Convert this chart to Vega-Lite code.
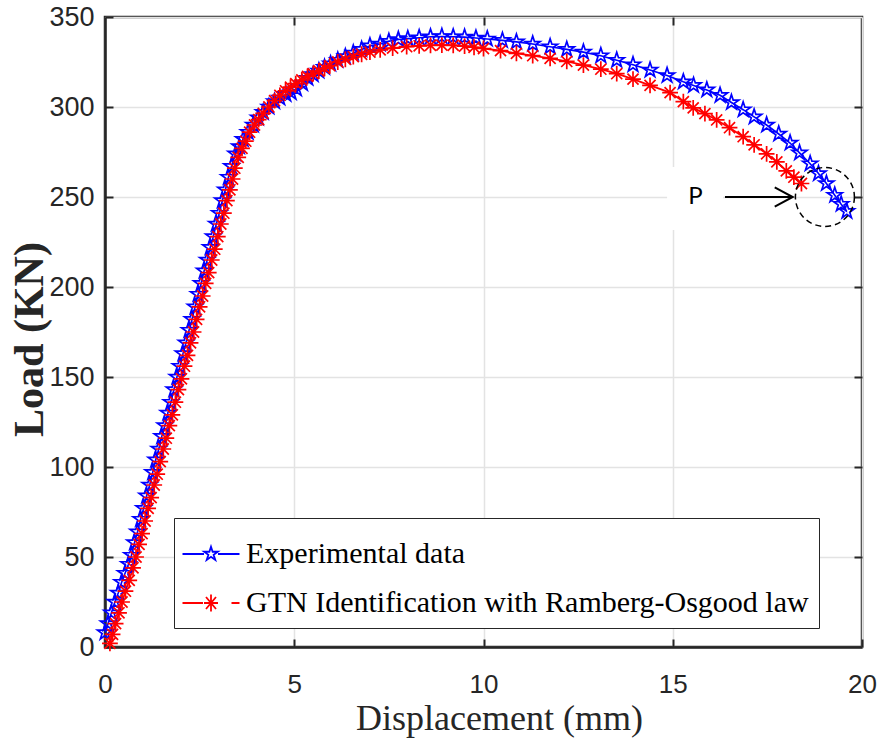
{
  "$schema": "https://vega.github.io/schema/vega-lite/v6.json",
  "width": 757,
  "height": 630,
  "autosize": {"type": "none"},
  "padding": {"left": 105, "top": 17, "right": 17, "bottom": 93},
  "background": "white",
  "config": {
    "view": {"stroke": "#262626", "strokeWidth": 2.5}
  },
  "datasets": {
    "curves": [
      {"s":"E","x":0.00,"y":8},{"s":"E","x":0.08,"y":13},{"s":"E","x":0.17,"y":19},{"s":"E","x":0.26,"y":25},{"s":"E","x":0.35,"y":30},
      {"s":"E","x":0.44,"y":36},{"s":"E","x":0.53,"y":41},{"s":"E","x":0.62,"y":46},{"s":"E","x":0.70,"y":51},{"s":"E","x":0.78,"y":58},
      {"s":"E","x":0.86,"y":64},{"s":"E","x":0.94,"y":71},{"s":"E","x":1.02,"y":77},{"s":"E","x":1.10,"y":84},{"s":"E","x":1.18,"y":90},
      {"s":"E","x":1.26,"y":97},{"s":"E","x":1.34,"y":104},{"s":"E","x":1.42,"y":110},{"s":"E","x":1.50,"y":117},{"s":"E","x":1.58,"y":123},
      {"s":"E","x":1.66,"y":130},{"s":"E","x":1.74,"y":136},{"s":"E","x":1.82,"y":143},{"s":"E","x":1.90,"y":150},{"s":"E","x":1.98,"y":156},
      {"s":"E","x":2.06,"y":163},{"s":"E","x":2.14,"y":169},{"s":"E","x":2.22,"y":176},{"s":"E","x":2.30,"y":182},{"s":"E","x":2.38,"y":189},
      {"s":"E","x":2.46,"y":196},{"s":"E","x":2.54,"y":202},{"s":"E","x":2.62,"y":209},{"s":"E","x":2.70,"y":215},{"s":"E","x":2.78,"y":222},
      {"s":"E","x":2.86,"y":228},{"s":"E","x":2.94,"y":235},{"s":"E","x":3.02,"y":241},{"s":"E","x":3.10,"y":248},{"s":"E","x":3.18,"y":254},
      {"s":"E","x":3.26,"y":261},{"s":"E","x":3.34,"y":267},{"s":"E","x":3.45,"y":274},{"s":"E","x":3.55,"y":278},{"s":"E","x":3.65,"y":282},
      {"s":"E","x":3.78,"y":286},{"s":"E","x":3.92,"y":290},{"s":"E","x":4.05,"y":294},{"s":"E","x":4.18,"y":297},{"s":"E","x":4.33,"y":300},
      {"s":"E","x":4.48,"y":303},{"s":"E","x":4.62,"y":305},{"s":"E","x":4.78,"y":307},{"s":"E","x":4.92,"y":308},{"s":"E","x":5.06,"y":310},
      {"s":"E","x":5.22,"y":313},{"s":"E","x":5.36,"y":316},{"s":"E","x":5.50,"y":318},{"s":"E","x":5.65,"y":320},{"s":"E","x":5.80,"y":322},
      {"s":"E","x":5.96,"y":324},{"s":"E","x":6.15,"y":326},{"s":"E","x":6.35,"y":328},{"s":"E","x":6.56,"y":330},{"s":"E","x":6.78,"y":332},
      {"s":"E","x":7.00,"y":334},{"s":"E","x":7.27,"y":335},{"s":"E","x":7.50,"y":336.5},{"s":"E","x":7.75,"y":337.5},{"s":"E","x":8.00,"y":338},
      {"s":"E","x":8.30,"y":338.5},{"s":"E","x":8.60,"y":339},{"s":"E","x":8.90,"y":339.2},{"s":"E","x":9.20,"y":339},{"s":"E","x":9.50,"y":338.8},
      {"s":"E","x":9.80,"y":338.3},{"s":"E","x":10.10,"y":337.8},{"s":"E","x":10.50,"y":337},{"s":"E","x":10.87,"y":336.2},{"s":"E","x":11.30,"y":335},
      {"s":"E","x":11.76,"y":333.5},{"s":"E","x":12.20,"y":332},{"s":"E","x":12.64,"y":330.5},{"s":"E","x":13.10,"y":328.5},{"s":"E","x":13.52,"y":326},
      {"s":"E","x":13.95,"y":323.5},{"s":"E","x":14.40,"y":320.5},{"s":"E","x":14.85,"y":317.5},{"s":"E","x":15.28,"y":314},{"s":"E","x":15.55,"y":312},
      {"s":"E","x":15.90,"y":309.5},{"s":"E","x":16.25,"y":306.5},{"s":"E","x":16.55,"y":302.5},{"s":"E","x":16.86,"y":298.5},{"s":"E","x":17.15,"y":294.5},
      {"s":"E","x":17.48,"y":290},{"s":"E","x":17.80,"y":285},{"s":"E","x":18.10,"y":280},{"s":"E","x":18.35,"y":274.5},{"s":"E","x":18.63,"y":268.5},
      {"s":"E","x":18.85,"y":263},{"s":"E","x":19.06,"y":257.5},{"s":"E","x":19.28,"y":251},{"s":"E","x":19.45,"y":246},{"s":"E","x":19.60,"y":242},
      {"s":"G","x":0.13,"y":2},{"s":"G","x":0.20,"y":7},{"s":"G","x":0.28,"y":13},{"s":"G","x":0.37,"y":19},{"s":"G","x":0.45,"y":25},
      {"s":"G","x":0.54,"y":31},{"s":"G","x":0.64,"y":37},{"s":"G","x":0.74,"y":44},{"s":"G","x":0.82,"y":50},{"s":"G","x":0.90,"y":57},
      {"s":"G","x":0.98,"y":63},{"s":"G","x":1.06,"y":70},{"s":"G","x":1.14,"y":77},{"s":"G","x":1.22,"y":83},{"s":"G","x":1.30,"y":90},
      {"s":"G","x":1.38,"y":96},{"s":"G","x":1.46,"y":103},{"s":"G","x":1.54,"y":110},{"s":"G","x":1.62,"y":116},{"s":"G","x":1.70,"y":123},
      {"s":"G","x":1.78,"y":129},{"s":"G","x":1.86,"y":136},{"s":"G","x":1.94,"y":143},{"s":"G","x":2.02,"y":149},{"s":"G","x":2.10,"y":156},
      {"s":"G","x":2.18,"y":162},{"s":"G","x":2.26,"y":169},{"s":"G","x":2.34,"y":175},{"s":"G","x":2.42,"y":182},{"s":"G","x":2.50,"y":189},
      {"s":"G","x":2.58,"y":195},{"s":"G","x":2.66,"y":202},{"s":"G","x":2.74,"y":208},{"s":"G","x":2.82,"y":215},{"s":"G","x":2.90,"y":221},
      {"s":"G","x":2.98,"y":228},{"s":"G","x":3.06,"y":235},{"s":"G","x":3.14,"y":241},{"s":"G","x":3.22,"y":248},{"s":"G","x":3.30,"y":254},
      {"s":"G","x":3.37,"y":260},{"s":"G","x":3.43,"y":266},{"s":"G","x":3.52,"y":272},{"s":"G","x":3.62,"y":277},{"s":"G","x":3.72,"y":281},
      {"s":"G","x":3.82,"y":286},{"s":"G","x":3.95,"y":290},{"s":"G","x":4.06,"y":293},{"s":"G","x":4.18,"y":296.5},{"s":"G","x":4.33,"y":300},
      {"s":"G","x":4.48,"y":303.5},{"s":"G","x":4.62,"y":306.5},{"s":"G","x":4.77,"y":309},{"s":"G","x":4.90,"y":311},{"s":"G","x":5.04,"y":313},
      {"s":"G","x":5.20,"y":315},{"s":"G","x":5.35,"y":317},{"s":"G","x":5.50,"y":318.5},{"s":"G","x":5.65,"y":320},{"s":"G","x":5.80,"y":321.5},
      {"s":"G","x":5.94,"y":323},{"s":"G","x":6.15,"y":325},{"s":"G","x":6.35,"y":326.5},{"s":"G","x":6.56,"y":328},{"s":"G","x":6.78,"y":329.3},
      {"s":"G","x":7.00,"y":330.5},{"s":"G","x":7.27,"y":331.7},{"s":"G","x":7.60,"y":332.7},{"s":"G","x":7.97,"y":333.5},{"s":"G","x":8.30,"y":334},
      {"s":"G","x":8.60,"y":334.3},{"s":"G","x":8.90,"y":334.4},{"s":"G","x":9.20,"y":334.3},{"s":"G","x":9.50,"y":333.8},{"s":"G","x":9.75,"y":333.2},
      {"s":"G","x":10.00,"y":332.5},{"s":"G","x":10.45,"y":331.3},{"s":"G","x":10.87,"y":329.8},{"s":"G","x":11.30,"y":328.5},{"s":"G","x":11.76,"y":327},
      {"s":"G","x":12.20,"y":325.3},{"s":"G","x":12.64,"y":323.3},{"s":"G","x":13.10,"y":321},{"s":"G","x":13.52,"y":318.5},{"s":"G","x":13.95,"y":315.5},
      {"s":"G","x":14.40,"y":312},{"s":"G","x":14.93,"y":308},{"s":"G","x":15.28,"y":303},{"s":"G","x":15.54,"y":299.5},{"s":"G","x":15.85,"y":296.3},
      {"s":"G","x":16.16,"y":292.8},{"s":"G","x":16.50,"y":288.5},{"s":"G","x":16.86,"y":283.5},{"s":"G","x":17.15,"y":279},{"s":"G","x":17.48,"y":274},
      {"s":"G","x":17.75,"y":269.5},{"s":"G","x":18.00,"y":264.5},{"s":"G","x":18.20,"y":261},{"s":"G","x":18.40,"y":257.5}
    ]
  },
  "layer": [
    {
      "encoding": {
        "x": {
          "field": "x", "type": "quantitative",
          "scale": {"domain": [0, 20], "nice": false, "zero": false},
          "axis": {
            "values": [0, 5, 10, 15, 20], "grid": true, "gridColor": "#e3e3e3", "gridWidth": 1.5,
            "tickSize": -8, "tickColor": "#262626", "tickWidth": 2,
            "domainColor": "#262626", "domainWidth": 2.5,
            "labelFont": "Liberation Sans", "labelFontSize": 26, "labelColor": "#262626",
            "labelPadding": 32, "labelFlush": false,
            "title": "Displacement (mm)", "titleFont": "Liberation Serif", "titleFontSize": 36,
            "titleFontWeight": "normal", "titleColor": "#262626",
            "titleX": 394, "titleY": 82, "titleBaseline": "alphabetic", "titleAlign": "center"
          }
        },
        "y": {
          "field": "y", "type": "quantitative",
          "scale": {"domain": [0, 350], "nice": false, "zero": false},
          "axis": {
            "values": [0, 50, 100, 150, 200, 250, 300, 350], "grid": true, "gridColor": "#e3e3e3", "gridWidth": 1.5,
            "tickSize": -8, "tickColor": "#262626", "tickWidth": 2,
            "domainColor": "#262626", "domainWidth": 2.5,
            "labelFont": "Liberation Sans", "labelFontSize": 27, "labelColor": "#262626",
            "labelPadding": 19, "labelFlush": false,
            "title": "Load (KN)", "titleFont": "Liberation Serif", "titleFontSize": 42,
            "titleFontWeight": "bold", "titleColor": "#262626",
            "titleX": -76, "titleY": 322, "titleAngle": 270, "titleAlign": "center", "titleBaseline": "middle"
          }
        }
      },
      "layer": [
        {
          "data": {"values": [{"x": 14.85, "x2": 16.33, "y": 231.7, "y2": 266.7}]},
          "mark": {"type": "rect", "fill": "white"},
          "encoding": {"x2": {"field": "x2"}, "y2": {"field": "y2"}}
        },
        {
          "data": {"name": "curves"},
          "transform": [{"filter": "datum.s == 'E'"}],
          "mark": {"type": "line", "strokeWidth": 1.6, "color": "#0000ff"}
        },
        {
          "data": {"name": "curves"},
          "transform": [{"filter": "datum.s == 'G'"}],
          "mark": {"type": "line", "strokeWidth": 1.8, "color": "#ff0000"}
        },
        {
          "data": {"name": "curves"},
          "transform": [{"filter": "datum.s == 'E'"}],
          "mark": {"type": "point", "filled": false, "size": 250, "strokeWidth": 1.7, "opacity": 1, "color": "#0000ff",
                   "shape": "M0,-1L0.225,-0.309L0.951,-0.309L0.363,0.118L0.588,0.809L0,0.382L-0.588,0.809L-0.363,0.118L-0.951,-0.309L-0.225,-0.309Z"}
        },
        {
          "data": {"name": "curves"},
          "transform": [{"filter": "datum.s == 'G'"}],
          "mark": {"type": "point", "filled": false, "size": 250, "strokeWidth": 1.7, "opacity": 1, "color": "#ff0000",
                   "shape": "M0,-1L0,1M-1,0L1,0M-0.7,-0.7L0.7,0.7M-0.7,0.7L0.7,-0.7"}
        },
        {
          "data": {"values": [{"s": "E", "x": 0, "y": 0}, {"s": "G", "x": 0, "y": 0}]},
          "mark": {"type": "point", "filled": false, "size": 2500, "strokeWidth": 1.8, "opacity": 0},
          "encoding": {
            "shape": {
              "field": "s", "type": "nominal",
              "scale": {"domain": ["E", "G"], "range": [
                "M-1.14,0L-0.28,0M0.28,0L1.14,0M0,-0.29L0.065,-0.09L0.276,-0.09L0.105,0.034L0.171,0.235L0,0.111L-0.171,0.235L-0.105,0.034L-0.276,-0.09L-0.065,-0.09Z",
                "M-1.14,0L-0.32,0M0.82,0L1.14,0M0,-0.34L0,0.34M-0.28,0L0.28,0M-0.2,-0.24L0.2,0.24M-0.2,0.24L0.2,-0.24"
              ]}
            },
            "color": {
              "field": "s", "type": "nominal",
              "scale": {"domain": ["E", "G"], "range": ["#0000ff", "#ff0000"]},
              "legend": {
                "orient": "none", "legendX": 69, "legendY": 501, "title": null,
                "labelExpr": "datum.value == 'E' ? 'Experimental data' : 'GTN Identification with Ramberg-Osgood law'",
                "labelFont": "Liberation Serif", "labelFontSize": 30, "labelColor": "black", "labelLimit": 2000,
                "labelOffset": 9, "symbolOffset": 1, "symbolSize": 2500, "symbolStrokeWidth": 1.8, "symbolOpacity": 1,
                "rowPadding": 8, "padding": 10, "strokeColor": "#262626", "fillColor": "white",
                "encode": {
                  "legend": {"strokeWidth": {"value": 2}},
                  "symbols": {"opacity": {"value": 1}, "strokeWidth": {"value": 1.8}}
                }
              }
            }
          }
        },
        {
          "data": {"values": [{"x": 16.38, "x2": 18.15, "y": 250}]},
          "mark": {"type": "rule", "color": "black", "strokeWidth": 2},
          "encoding": {"x2": {"field": "x2"}}
        },
        {
          "data": {"values": [{"x": 18.17, "y": 250}]},
          "mark": {"type": "point", "shape": "M-1,-0.53L0,0L-1,0.53", "filled": false, "size": 1296, "stroke": "black", "strokeWidth": 2, "opacity": 1},
          "encoding": {}
        },
        {
          "data": {"values": [{"x": 19.02, "y": 250}]},
          "mark": {"type": "point", "shape": "circle", "filled": false, "size": 3481, "stroke": "black", "strokeWidth": 1.5, "strokeDash": [6, 4], "opacity": 1},
          "encoding": {}
        },
        {
          "data": {"values": [{"x": 15.6, "y": 250, "label": "P"}]},
          "mark": {"type": "text", "font": "Lato", "fontSize": 24, "color": "black", "align": "center", "baseline": "middle"},
          "encoding": {"text": {"field": "label"}}
        }
      ]
    },
    {
      "data": {"values": [{"x": 0, "y": 0}]},
      "mark": {"type": "point", "opacity": 0},
      "encoding": {
        "x": {
          "field": "x", "type": "quantitative",
          "scale": {"domain": [0, 20], "nice": false, "zero": false},
          "axis": {"orient": "top", "values": [5, 10, 15], "labels": false, "title": null, "grid": false, "domain": false,
                   "tickSize": -8, "tickColor": "#262626", "tickWidth": 2}
        },
        "y": {
          "field": "y", "type": "quantitative",
          "scale": {"domain": [0, 350], "nice": false, "zero": false},
          "axis": {"orient": "right", "values": [50, 100, 150, 200, 250, 300], "labels": false, "title": null, "grid": false, "domain": false,
                   "tickSize": -8, "tickColor": "#262626", "tickWidth": 2}
        }
      }
    }
  ],
  "resolve": {"axis": {"x": "independent", "y": "independent"}}
}
